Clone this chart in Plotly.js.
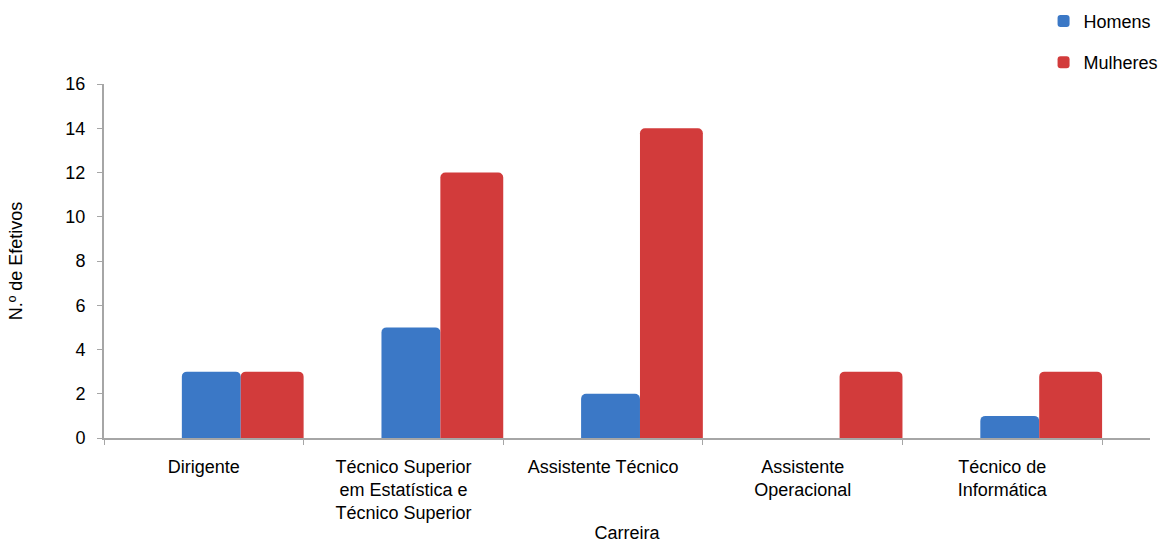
<!DOCTYPE html>
<html>
<head>
<meta charset="utf-8">
<script src="https://cdn.plot.ly/plotly-3.0.1.min.js"></script>
<style>html,body{margin:0;padding:0;background:#fff}#chart{width:1166px;height:543px}</style>
</head>
<body>
<div id="chart"></div>
<script>
const categories = [
  "Dirigente",
  "Técnico Superior<br>em Estatística e<br>Técnico Superior",
  "Assistente Técnico",
  "Assistente<br>Operacional",
  "Técnico de<br>Informática"
];
const homens = [3, 5, 2, 0, 1];
const mulheres = [3, 12, 14, 3, 3];
const yTicks = [0, 2, 4, 6, 8, 10, 12, 14, 16];

const font = "Liberation Sans, Arial, sans-serif";

const traces = [
  {
    type: "bar", name: "Homens", x: categories, y: homens,
    width: 0.295, offset: -0.11, legendgroup: "h",
    marker: {color: "#3b78c6", line: {width: 0}, cornerradius: 5},
    hoverinfo: "y+name"
  },
  {
    type: "bar", name: "Mulheres", x: categories, y: mulheres,
    width: 0.315, offset: 0.185, legendgroup: "m",
    marker: {color: "#d23b3b", line: {width: 0}, cornerradius: 5},
    hoverinfo: "y+name"
  }
];

const layout = {
  width: 1166, height: 543,
  margin: {l: 104, r: 16, t: 84, b: 105, autoexpand: false},
  paper_bgcolor: "#fff", plot_bgcolor: "#fff",
  font: {family: font, size: 18, color: "#000"},
  showlegend: true,
  legend: {
    xref: "container", yref: "container", x: 0.895, y: 0.995,
    xanchor: "left", yanchor: "top",
    font: {family: font, size: 18, color: "#000"},
    tracegroupgap: 15, itemwidth: 30, traceorder: "grouped"
  },
  xaxis: {
    type: "category", range: [-0.5, 4.74],
    showline: true, linecolor: "#a6a6a6", linewidth: 2,
    ticks: "outside", tickson: "boundaries", ticklen: 5, tickcolor: "#a6a6a6", tickwidth: 1,
    showgrid: false, zeroline: false, automargin: false,
    ticklabelstandoff: 11,
    tickfont: {family: font, size: 18, color: "#000"},
    title: {text: "Carreira", font: {family: font, size: 18, color: "#000"}, standoff: 4}
  },
  yaxis: {
    range: [0, 16], tickvals: yTicks, ticktext: yTicks.map(String),
    showline: true, linecolor: "#a6a6a6", linewidth: 2,
    ticks: "outside", ticklen: 5, tickcolor: "#a6a6a6", tickwidth: 1,
    showgrid: false, zeroline: false, automargin: false,
    ticklabelstandoff: 8,
    tickfont: {family: font, size: 18, color: "#000"},
    title: {text: "N.º de Efetivos", font: {family: font, size: 18, color: "#000"}, standoff: 38}
  },
  bargap: 0.39, bargroupgap: 0
};

Plotly.newPlot("chart", traces, layout, {displayModeBar: false, staticPlot: true});
</script>
</body>
</html>
